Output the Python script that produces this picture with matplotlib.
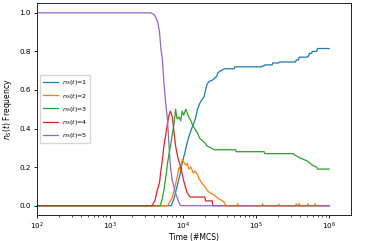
import numpy as np
import matplotlib
matplotlib.use("Agg")
import matplotlib.pyplot as plt

# log10(time) and frequency values for each n_S(t)
lt1 = [0, 3.84, 3.88, 3.92, 3.96, 3.99, 4.03, 4.06, 4.10, 4.13, 4.17, 4.20, 4.23, 4.26, 4.29, 4.31, 4.33,
       4.36, 4.40, 4.43, 4.46, 4.48, 4.52, 4.57, 4.66, 4.70, 4.71, 5.08, 5.09, 5.11, 5.12, 5.22, 5.23,
       5.31, 5.32, 5.54, 5.55, 5.58, 5.59, 5.70, 5.71, 5.72, 5.73, 5.76, 5.77, 5.83, 5.84, 6.0]
v1 = [0, 0, 0.04, 0.10, 0.16, 0.22, 0.28, 0.33, 0.38, 0.41, 0.45, 0.50, 0.53, 0.55, 0.565, 0.60, 0.63,
      0.645, 0.65, 0.66, 0.67, 0.69, 0.70, 0.71, 0.71, 0.71, 0.72, 0.72, 0.725, 0.725, 0.73, 0.73, 0.74,
      0.74, 0.745, 0.745, 0.755, 0.755, 0.77, 0.77, 0.775, 0.775, 0.79, 0.79, 0.80, 0.80, 0.815, 0.815]

lt2 = [0, 3.79, 3.82, 3.85, 3.88, 3.91, 3.95, 3.97, 3.99, 4.02, 4.04, 4.06, 4.08, 4.11, 4.14, 4.17, 4.20,
       4.22, 4.24, 4.27, 4.30, 4.33, 4.36, 4.40, 4.43, 4.47, 4.52, 4.56, 4.59,
       4.74, 4.75, 4.76, 5.08, 5.09, 5.10, 5.30, 5.31, 5.32, 5.54, 5.55, 5.56, 5.58, 5.59, 5.60,
       5.70, 5.71, 5.72, 5.80, 5.81, 5.82, 6.0]
v2 = [0, 0, 0.02, 0.04, 0.08, 0.13, 0.20, 0.18, 0.24, 0.22, 0.21, 0.22, 0.19, 0.20, 0.17, 0.18, 0.16,
      0.14, 0.13, 0.11, 0.10, 0.08, 0.07, 0.06, 0.055, 0.04, 0.03, 0.02, 0.0,
      0, 0.01, 0, 0, 0.01, 0, 0, 0.008, 0, 0, 0.01, 0, 0, 0.012, 0,
      0, 0.01, 0, 0, 0.01, 0, 0]

lt3 = [0, 3.69, 3.72, 3.74, 3.77, 3.79, 3.81, 3.83, 3.86, 3.88, 3.90, 3.92, 3.95, 3.97, 3.99, 4.01, 4.04,
       4.06, 4.08, 4.11, 4.13, 4.16, 4.20, 4.23, 4.26, 4.29, 4.33, 4.38, 4.43, 4.72, 4.73, 5.11, 5.12,
       5.51, 5.52, 5.59, 5.65, 5.71, 5.77, 5.83, 5.84, 6.0]
v3 = [0, 0, 0.04, 0.08, 0.16, 0.22, 0.27, 0.31, 0.38, 0.43, 0.50, 0.45, 0.46, 0.44, 0.49, 0.47, 0.50,
      0.48, 0.46, 0.44, 0.42, 0.40, 0.375, 0.35, 0.34, 0.33, 0.31, 0.30, 0.29, 0.29, 0.28, 0.28, 0.27,
      0.27, 0.265, 0.25, 0.24, 0.23, 0.21, 0.20, 0.19, 0.19]

lt4 = [0, 3.58, 3.62, 3.65, 3.68, 3.70, 3.72, 3.74, 3.77, 3.79, 3.81, 3.83, 3.855, 3.88, 3.90, 3.93,
       3.97, 4.01, 4.04, 4.06, 4.10, 4.30, 4.31, 4.40, 4.41, 6.0]
v4 = [0, 0, 0.03, 0.08, 0.12, 0.185, 0.24, 0.31, 0.38, 0.43, 0.47, 0.49, 0.46, 0.375, 0.31, 0.25,
      0.20, 0.13, 0.09, 0.065, 0.045, 0.045, 0.025, 0.025, 0, 0]

lt5 = [0, 3.56, 3.61, 3.655, 3.68, 3.70, 3.72, 3.74, 3.76, 3.79, 3.81, 3.83, 3.855, 3.90, 3.95, 3.97, 6.0]
v5 = [1, 1, 0.99, 0.955, 0.9, 0.81, 0.755, 0.64, 0.55, 0.44, 0.31, 0.20, 0.13, 0.065, 0.012, 0, 0]

labels = [r'$n_S(t)$=1', r'$n_S(t)$=2', r'$n_S(t)$=3', r'$n_S(t)$=4', r'$n_S(t)$=5']
series = [(lt1, v1), (lt2, v2), (lt3, v3), (lt4, v4), (lt5, v5)]

fig = plt.figure(figsize=(3.68, 2.41), dpi=100)
ax = fig.add_axes([0.0997, 0.108, 0.954 - 0.0997, 0.986 - 0.108])

for (lt, v), lab in zip(series, labels):
    t = 10 ** np.array(lt)
    ax.plot(t, v, lw=0.9, label=lab)

ax.set_xscale('log')
ax.set_xlim(100, 10 ** 6.3)
ax.set_ylim(-0.048, 1.049)
ax.tick_params(labelsize=5.2, length=2.5, width=0.6, pad=1.5)
ax.tick_params(which='minor', length=1.5, width=0.5)
for s in ax.spines.values():
    s.set_linewidth(0.6)
ax.set_xlabel('Time (#MCS)', fontsize=5.5, labelpad=1)
ax.set_ylabel(r'$n_S(t)$ Frequency', fontsize=5.5, labelpad=4)
ax.legend(loc='center left', fontsize=4.6, handlelength=2.3, handletextpad=0.6, borderpad=0.5,
          labelspacing=0.65, framealpha=0.8, edgecolor='#cccccc')

fig.savefig('out.png', dpi=100)
